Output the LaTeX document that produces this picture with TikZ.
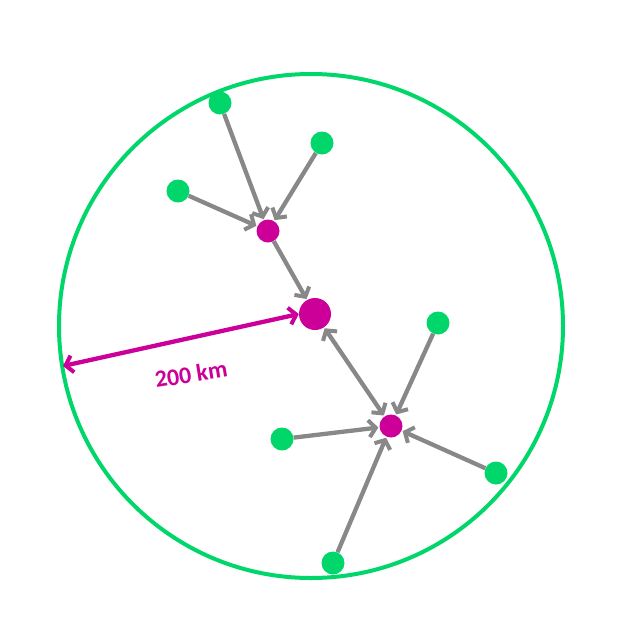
\documentclass[tikz,border=0pt]{standalone}
\usepackage{fontspec}
\setsansfont{Carlito}
\usetikzlibrary{positioning}
\usetikzlibrary{arrows.meta}
\definecolor{leafgreen}{RGB}{0,214,106}
\definecolor{hubmag}{RGB}{204,0,153}
\definecolor{linkgray}{RGB}{136,136,136}
\tikzset{
leaf/.style = {circle, fill=leafgreen, minimum size=23pt, inner sep=0pt},
hub/.style  = {circle, fill=hubmag, minimum size=23pt, inner sep=0pt},
root/.style = {circle, fill=hubmag, minimum size=32pt, inner sep=0pt},
link/.style = {draw=linkgray, line width=4.3pt, -{Straight Barb[length=7pt,width=17pt,line width=4pt]}, shorten >=1pt},
tmp/.style  = {coordinate}
}

\begin{document}
\begin{tikzpicture}[x=1pt, y=-1pt]
    \useasboundingbox (0,0) rectangle (630,630);
    % the range circle
    \node at (311,326) [tmp, name=centre] {};
    \draw [leafgreen, line width=4pt] (centre) circle (252pt);

    % We start by placing the stations
    \node at (315,314) [root] (root) {};
    \node at (268,231) [hub] (hubA) {};
    \node at (391,426) [hub] (hubB) {};
    \node at (220,103) [leaf] (a1) {};
    \node at (322,143) [leaf] (a2) {};
    \node at (178,191) [leaf] (a3) {};
    \node at (438,323) [leaf] (b1) {};
    \node at (282,439) [leaf] (b2) {};
    \node at (496,473) [leaf] (b3) {};
    \node at (333,563) [leaf] (b4) {};
    \node at (63,366) [tmp] (rim) {};

    % links towards the hubs
    \draw [link] (a1) -- (hubA);
    \draw [link] (a2) -- (hubA);
    \draw [link] (a3) -- (hubA);
    \draw [link] (hubA) -- (root);
    \draw [link, {Straight Barb[length=7pt,width=17pt,line width=4pt]}-{Straight Barb[length=7pt,width=17pt,line width=4pt]}, shorten <=1pt] (root) -- (hubB);
    \draw [link] (b1) -- (hubB);
    \draw [link] (b2) -- (hubB);
    \draw [link] (b3) -- (hubB);
    \draw [link] (b4) -- (hubB);

    % the radius
    \draw [hubmag, line width=4.3pt, {Straight Barb[length=7pt,width=17pt,line width=4pt]}-{Straight Barb[length=7pt,width=17pt,line width=4pt]}] (rim) -- (root.west);
    \node at (191,374) [rotate=9, font=\sffamily\bfseries\fontsize{24}{28}\selectfont, text=hubmag] (dist) {200 km};
\end{tikzpicture}
\end{document}
